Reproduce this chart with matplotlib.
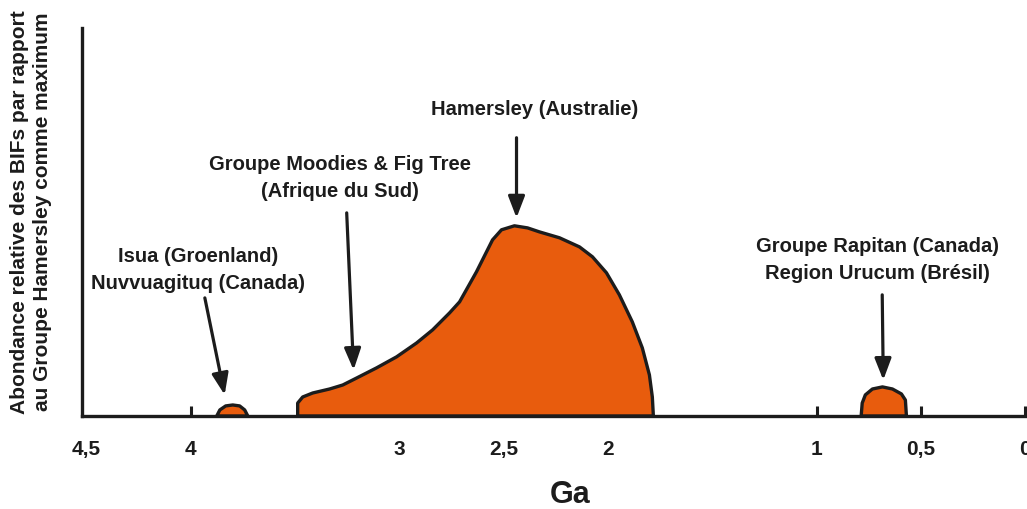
import matplotlib.pyplot as plt

plt.rcParams['font.family'] = ['Liberation Sans', 'DejaVu Sans']
plt.rcParams['font.weight'] = 'bold'

# age in Ga, abundance relative to the Hamersley maximum (= 1)
isua_ga = [3.876, 3.861, 3.833, 3.799, 3.766, 3.742, 3.727]
isua_ab = [0.0, 0.032, 0.053, 0.058, 0.053, 0.032, 0.0]

main_ga = [3.488, 3.488, 3.464, 3.416, 3.335, 3.272, 3.205, 3.110, 3.014, 2.918,
           2.841, 2.760, 2.712, 2.631, 2.554, 2.511, 2.449, 2.386, 2.329, 2.233,
           2.137, 2.075, 2.008, 1.946, 1.884, 1.836, 1.802, 1.788, 1.783]
main_ab = [0.0, 0.068, 0.100, 0.121, 0.142, 0.163, 0.200, 0.253, 0.311, 0.384,
           0.453, 0.542, 0.600, 0.758, 0.926, 0.979, 1.0, 0.989, 0.968, 0.937,
           0.889, 0.837, 0.753, 0.637, 0.495, 0.358, 0.216, 0.1, 0.0]

rapitan_ga = [0.787, 0.782, 0.767, 0.733, 0.685, 0.637, 0.594, 0.575, 0.570]
rapitan_ab = [0.0, 0.068, 0.111, 0.142, 0.153, 0.142, 0.116, 0.084, 0.0]

ticks = [4.5, 4, 3, 2.5, 2, 1, 0.5, 0]
tick_labels = ['4,5', '4', '3', '2,5', '2', '1', '0,5', '0']

# label text, text position, arrow start, arrow end
notes = [
    ('Hamersley (Australie)', (2.353, 1.611), (2.439, 1.463), (2.439, 1.042)),
    ('Groupe Moodies & Fig Tree\n(Afrique du Sud)', (3.285, 1.253), (3.253, 1.068), (3.220, 0.242)),
    ('Isua (Groenland)\nNuvvuagituq (Canada)', (3.967, 0.769), (3.933, 0.621), (3.838, 0.111)),
    ('Groupe Rapitan (Canada)\nRegion Urucum (Brésil)', (0.710, 0.822), (0.686, 0.637), (0.681, 0.189)),
]

orange = '#e85c0d'
dark = '#1c1c1c'

fig = plt.figure(figsize=(10.27, 5.09), dpi=100)
ax = fig.add_axes([0.0798, 0.1827, 0.9192, 0.7623])

for gx, gy in [(isua_ga, isua_ab), (main_ga, main_ab), (rapitan_ga, rapitan_ab)]:
    ax.fill(gx, gy, facecolor=orange, edgecolor=dark, linewidth=2.4,
            joinstyle='round', zorder=2)

for text, tpos, a0, a1 in notes:
    ax.text(tpos[0], tpos[1], text, ha='center', va='center', fontsize=14.5,
            fontweight='bold', linespacing=1.55, color=dark)
    ax.annotate('', xy=a1, xytext=a0,
                arrowprops=dict(arrowstyle='-|>,head_length=1.3,head_width=0.5',
                                color=dark, lw=2.3, shrinkA=0, shrinkB=0))

ax.set_xlim(4.522, -0.003)
ax.set_ylim(0, 2.04)
ax.set_xticks(ticks)
ax.set_xticklabels(tick_labels, fontsize=15, fontweight='bold')
ax.set_yticks([])
ax.tick_params(axis='x', direction='in', length=7.5, width=2.2, color=dark,
               pad=17, labelcolor=dark)
ax.xaxis.get_major_ticks()[0].tick1line.set_visible(False)
ax.spines['top'].set_visible(False)
ax.spines['right'].set_visible(False)
for s in ['left', 'bottom']:
    ax.spines[s].set_linewidth(2.4)
    ax.spines[s].set_color(dark)

fig.text(570 / 1027, 1 - 495 / 509, 'Ga', ha='center', va='center',
         fontsize=22, fontweight='bold', color=dark)
fig.text(31 / 1027, 1 - 212 / 509,
         'Abondance relative des BIFs par rapport\nau Groupe Hamersley comme maximum',
         rotation=90, ha='center', va='center', fontsize=15, fontweight='bold',
         linespacing=1.25, color=dark)

fig.savefig('out.png', dpi=100)
